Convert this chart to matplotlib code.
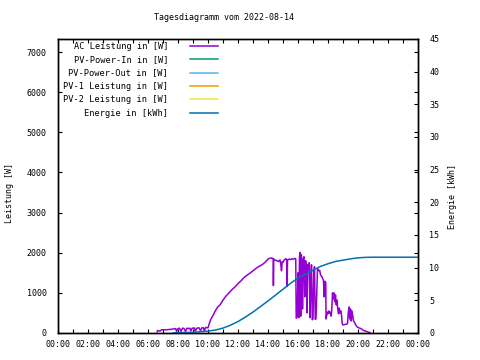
import matplotlib
matplotlib.use("Agg")
import matplotlib.pyplot as plt

plt.rcParams['font.family'] = ['DejaVu Sans Mono']
plt.rcParams['font.size'] = 6

# Tagesdaten 2022-08-14 (Uhrzeit in Stunden)
ac_hours = [6.62, 6.63, 6.80, 6.90, 7.20, 7.50, 7.70, 7.85, 7.90, 8.00, 8.10, 8.20, 8.30, 8.40,
            8.50, 8.60, 8.70, 8.80, 8.85, 8.95, 9.10, 9.15, 9.25, 9.40, 9.50, 9.60, 9.70, 9.75,
            9.85, 9.95, 10.00, 10.10, 10.20, 10.35, 10.50, 10.65, 10.80, 11.00, 11.20, 11.40,
            11.60, 11.80, 12.00, 12.20, 12.40, 12.60, 12.80, 13.00, 13.20, 13.40, 13.60, 13.80,
            14.00, 14.10, 14.20, 14.30, 14.35, 14.36, 14.38, 14.50, 14.60, 14.70, 14.80, 14.85,
            14.90, 14.95, 15.00, 15.10, 15.20, 15.25, 15.28, 15.30, 15.40, 15.50, 15.60, 15.70,
            15.80, 15.85, 15.88, 15.95, 16.00, 16.05, 16.10, 16.15, 16.18, 16.22, 16.27, 16.30,
            16.35, 16.40, 16.45, 16.50, 16.55, 16.60, 16.65, 16.70, 16.75, 16.80, 16.85, 16.90,
            16.95, 17.00, 17.05, 17.10, 17.15, 17.20, 17.25, 17.30, 17.35, 17.40, 17.45, 17.50,
            17.55, 17.60, 17.65, 17.70, 17.75, 17.80, 17.85, 17.87, 17.95, 18.00, 18.05, 18.10,
            18.15, 18.20, 18.25, 18.30, 18.35, 18.40, 18.45, 18.50, 18.55, 18.60, 18.65, 18.70,
            18.75, 18.80, 18.85, 18.90, 18.95, 19.00, 19.10, 19.20, 19.30, 19.35, 19.40, 19.45,
            19.50, 19.55, 19.60, 19.65, 19.70, 19.75, 19.85, 19.95, 20.05, 20.20, 20.30, 20.40,
            20.50, 20.60, 20.70, 20.80]
ac_power = [30, 60, 50, 80, 80, 90, 100, 110, 40, 110, 120, 40, 120, 115,
            40, 120, 110, 120, 50, 120, 125, 40, 120, 130, 60, 130, 130, 50,
            140, 130, 130, 250, 350, 450, 560, 650, 700, 820, 920, 1000,
            1080, 1150, 1230, 1300, 1380, 1440, 1490, 1550, 1610, 1660, 1700, 1760,
            1840, 1860, 1870, 1860, 1850, 1180, 1840, 1810, 1800, 1780, 1820, 1720,
            1550, 1780, 1760, 1830, 1850, 1800, 1160, 1820, 1840, 1830, 1850, 1840,
            1860, 1840, 370, 400, 1500, 380, 1900, 2010, 420, 1950, 1700, 600,
            1850, 1900, 900, 1800, 1750, 500, 1700, 1600, 1750, 380, 1200, 1700,
            330, 350, 1500, 1650, 340, 360, 1000, 1600, 1580, 1550, 1560, 1450,
            1420, 1400, 1350, 1300, 900, 1290, 1250, 350, 520, 480, 550, 500,
            520, 420, 560, 1000, 850, 1000, 780, 950, 700, 820, 600, 480,
            620, 500, 550, 450, 230, 200, 210, 220, 230, 500, 650, 350,
            600, 300, 550, 420, 300, 280, 200, 150, 130, 110, 80, 60,
            45, 35, 20, 10]

energy_hours = [7.67, 8.0, 9.0, 10.0, 10.5, 11.0, 11.5, 12.0, 12.5, 13.0, 13.5, 14.0, 14.5,
                15.0, 15.5, 16.0, 16.5, 17.0, 17.5, 18.0, 18.5, 19.0, 19.5, 20.0, 20.5,
                21.0, 24.0]
energy_kwh = [0.0, 0.05, 0.1, 0.3, 0.45, 0.75, 1.2, 1.75, 2.45, 3.2, 4.05, 4.9, 5.8,
              6.7, 7.6, 8.4, 9.0, 9.6, 10.2, 10.6, 10.95, 11.15, 11.35, 11.5, 11.58,
              11.6, 11.6]

# keine Messwerte fuer diese Reihen
pv_in = []
pv_out = []
pv1 = []
pv2 = []

xtick_hours = list(range(0, 25, 2))
xtick_labels = ["00:00", "02:00", "04:00", "06:00", "08:00", "10:00", "12:00",
                "14:00", "16:00", "18:00", "20:00", "22:00", "00:00"]

fig = plt.figure(figsize=(4.8, 3.6), dpi=100)
ax = fig.add_axes([58 / 480, 27 / 360, 360 / 480, 294 / 360])
ax2 = ax.twinx()

l_ac, = ax.plot(ac_hours, ac_power, color="#9400d3", lw=1.1)
l_in, = ax.plot(pv_in, pv_in, color="#009e73", lw=1.1)
l_out, = ax.plot(pv_out, pv_out, color="#56b4e9", lw=1.1)
l_1, = ax.plot(pv1, pv1, color="#e69f00", lw=1.1)
l_2, = ax.plot(pv2, pv2, color="#f0e442", lw=1.1)
l_e, = ax2.plot(energy_hours, energy_kwh, color="#0072b2", lw=1.1)

ax.set_xlim(0, 24)
ax.set_ylim(0, 7325)
ax2.set_ylim(0, 45)

ax.set_xticks(xtick_hours)
ax.set_xticklabels(xtick_labels)
ax.set_xticks(range(0, 25), minor=True)
ax.set_yticks(range(0, 7001, 1000))
ax.set_yticklabels([str(v) for v in range(0, 7001, 1000)])
ax2.set_yticks(range(0, 46, 5))

ax.tick_params(which="both", direction="in", length=3, width=0.8,
               top=True, right=True, colors="black")
ax.tick_params(axis="y", pad=8)
ax.tick_params(axis="x", pad=5)
ax2.tick_params(direction="in", length=3, width=0.8, pad=8)

for a in (ax, ax2):
    for s in a.spines.values():
        s.set_linewidth(1.0)

ax.set_ylabel("Leistung [W]")
ax.yaxis.set_label_coords(-0.122, 0.476)
ax2.set_ylabel("Energie [kWh]")
ax2.yaxis.set_label_coords(1.083, 0.463)

fig.text(223.5 / 480, 1 - 18 / 360, "Tagesdiagramm vom 2022-08-14",
         ha="center", va="center")

fig.legend([l_ac, l_in, l_out, l_1, l_2, l_e],
           ["AC Leistung in [W]", "PV-Power-In in [W]", "PV-Power-Out in [W]",
            "PV-1 Leistung in [W]", "PV-2 Leistung in [W]", "Energie in [kWh]"],
           loc="upper left", bbox_to_anchor=(63 / 480, 1 - 42 / 360),
           markerfirst=False, frameon=False, fontsize=6.2, handlelength=3.25,
           handletextpad=2.6, labelspacing=0.5, borderpad=0, borderaxespad=0)

fig.savefig("out.png", dpi=100)
